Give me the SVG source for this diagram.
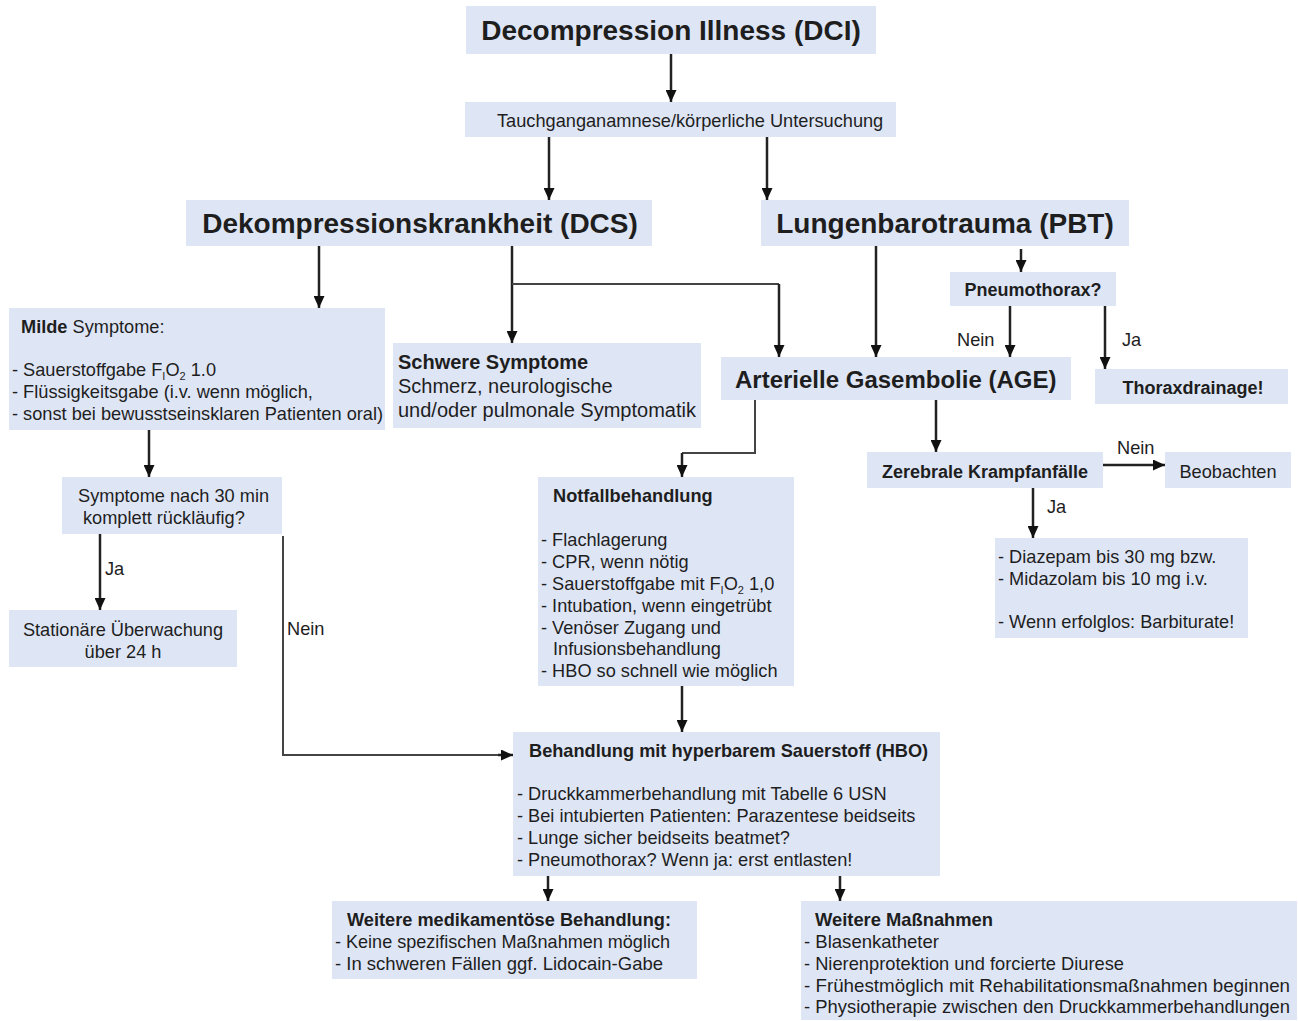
<svg xmlns="http://www.w3.org/2000/svg" width="1298" height="1021" viewBox="0 0 1298 1021">
<style>
.box{fill:#dee6f6}
text{font-family:"Liberation Sans",Arial,sans-serif;fill:#1e1e1e;font-size:18.2px}
.b{font-weight:bold}
.h1{font-weight:bold;font-size:28px}
.h2{font-weight:bold;font-size:24px}
.h3{font-weight:bold;font-size:18px}
.c{text-anchor:middle}
.sub{font-size:11px}
.ln{fill:none;stroke:#222;stroke-width:2.5}
.ln2{fill:none;stroke:#444;stroke-width:2}
</style>
<defs>
<marker id="ah" viewBox="0 0 12 11" refX="12" refY="5.5" markerWidth="12" markerHeight="11" markerUnits="userSpaceOnUse" orient="auto">
<path d="M0,0 L12,5.5 L0,11 z" fill="#111"/>
</marker>
</defs>

<g id="connectors">
<path class="ln" d="M671,54 V102" marker-end="url(#ah)"/>
<path class="ln" d="M549,137 V200" marker-end="url(#ah)"/>
<path class="ln" d="M767,137 V200" marker-end="url(#ah)"/>
<path class="ln" d="M319,246 V308" marker-end="url(#ah)"/>
<path class="ln" d="M512,246 V343" marker-end="url(#ah)"/>
<path class="ln2" d="M512,284 H779"/>
<path class="ln" d="M779,284 V357" marker-end="url(#ah)"/>
<path class="ln" d="M876,246 V357" marker-end="url(#ah)"/>
<path class="ln" d="M1021,249 V272" marker-end="url(#ah)"/>
<path class="ln" d="M1010,306 V357" marker-end="url(#ah)"/>
<path class="ln" d="M1105,306 V369" marker-end="url(#ah)"/>
<path class="ln" d="M149,430 V477" marker-end="url(#ah)"/>
<path class="ln2" d="M755,400 V453 H682"/>
<path class="ln" d="M682,453 V477" marker-end="url(#ah)"/>
<path class="ln" d="M936,400 V452" marker-end="url(#ah)"/>
<path class="ln" d="M1103,465 H1165" marker-end="url(#ah)"/>
<path class="ln" d="M1033,488 V538" marker-end="url(#ah)"/>
<path class="ln" d="M100,534 V610" marker-end="url(#ah)"/>
<path class="ln2" d="M283,536 V755 H500"/>
<path class="ln" d="M498,755 H513" marker-end="url(#ah)"/>
<path class="ln" d="M682,686 V732" marker-end="url(#ah)"/>
<path class="ln" d="M548,876 V901" marker-end="url(#ah)"/>
<path class="ln" d="M840,876 V901" marker-end="url(#ah)"/>
<text x="957" y="346">Nein</text>
<text x="1122" y="346">Ja</text>
<text x="1117" y="454">Nein</text>
<text x="1047" y="513">Ja</text>
<text x="105" y="575">Ja</text>
<text x="287" y="635">Nein</text>
</g>

<g id="dci">
<rect class="box" x="466" y="6" width="410" height="48"/>
<text class="h1 c" x="671" y="40">Decompression Illness (DCI)</text>
</g>

<g id="tauch">
<rect class="box" x="465" y="102" width="431" height="35"/>
<text x="497" y="127">Tauchganganamnese/körperliche Untersuchung</text>
</g>

<g id="dcs">
<rect class="box" x="186" y="200" width="466" height="46"/>
<text class="h1 c" x="420" y="233">Dekompressionskrankheit (DCS)</text>
</g>

<g id="pbt">
<rect class="box" x="761" y="200" width="368" height="46"/>
<text class="h1 c" x="945" y="233">Lungenbarotrauma (PBT)</text>
</g>

<g id="milde">
<rect class="box" x="9" y="308" width="376" height="122"/>
<text x="21" y="333"><tspan class="b">Milde</tspan> Symptome:</text>
<text x="12" y="376">- Sauerstoffgabe F<tspan class="sub" dy="4">I</tspan><tspan dy="-4">O</tspan><tspan class="sub" dy="4">2</tspan><tspan dy="-4"> 1.0</tspan></text>
<text x="12" y="398">- Flüssigkeitsgabe (i.v. wenn möglich,</text>
<text x="12" y="420">- sonst bei bewusstseinsklaren Patienten oral)</text>
</g>

<g id="schwere">
<rect class="box" x="393" y="343" width="308" height="85"/>
<text class="b" x="398" y="369" style="font-size:20px">Schwere Symptome</text>
<text x="398" y="393" style="font-size:20px">Schmerz, neurologische</text>
<text x="398" y="417" style="font-size:20px">und/oder pulmonale Symptomatik</text>
</g>

<g id="pneumo">
<rect class="box" x="950" y="272" width="166" height="34"/>
<text class="h3 c" x="1033" y="296">Pneumothorax?</text>
</g>

<g id="age">
<rect class="box" x="721" y="357" width="350" height="43"/>
<text class="h2" x="735" y="388">Arterielle Gasembolie (AGE)</text>
</g>

<g id="thorax">
<rect class="box" x="1095" y="369" width="193" height="35"/>
<text class="h3 c" x="1193" y="394">Thoraxdrainage!</text>
</g>

<g id="sympt30">
<rect class="box" x="62" y="477" width="220" height="57"/>
<text x="78" y="502">Symptome nach 30 min</text>
<text x="83" y="524">komplett rückläufig?</text>
</g>

<g id="station">
<rect class="box" x="9" y="610" width="228" height="57"/>
<text class="c" x="123" y="636">Stationäre Überwachung</text>
<text class="c" x="123" y="658">über  24 h</text>
</g>

<g id="notfall">
<rect class="box" x="538" y="477" width="256" height="209"/>
<text class="b" x="553" y="502">Notfallbehandlung</text>
<text x="541" y="546">- Flachlagerung</text>
<text x="541" y="568">- CPR, wenn nötig</text>
<text x="541" y="590">- Sauerstoffgabe mit F<tspan class="sub" dy="4">I</tspan><tspan dy="-4">O</tspan><tspan class="sub" dy="4">2</tspan><tspan dy="-4">  1,0</tspan></text>
<text x="541" y="612">- Intubation, wenn eingetrübt</text>
<text x="541" y="634">- Venöser Zugang und</text>
<text x="553" y="655">Infusionsbehandlung</text>
<text x="541" y="677">- HBO so schnell wie möglich</text>
</g>

<g id="zerebral">
<rect class="box" x="867" y="452" width="236" height="36"/>
<text class="h3 c" x="985" y="478">Zerebrale Krampfanfälle</text>
</g>

<g id="beobachten">
<rect class="box" x="1165" y="452" width="126" height="36"/>
<text class="c" x="1228" y="478">Beobachten</text>
</g>

<g id="diazepam">
<rect class="box" x="995" y="538" width="253" height="100"/>
<text x="998" y="563">- Diazepam bis 30 mg bzw.</text>
<text x="998" y="585">- Midazolam bis 10 mg i.v.</text>
<text x="998" y="628">- Wenn erfolglos: Barbiturate!</text>
</g>

<g id="hbo">
<rect class="box" x="513" y="732" width="427" height="144"/>
<text class="b" x="529" y="757">Behandlung mit hyperbarem Sauerstoff (HBO)</text>
<text x="517" y="800">- Druckkammerbehandlung mit Tabelle 6 USN</text>
<text x="517" y="822">- Bei intubierten Patienten: Parazentese beidseits</text>
<text x="517" y="844">- Lunge sicher beidseits beatmet?</text>
<text x="517" y="866">- Pneumothorax? Wenn ja: erst entlasten!</text>
</g>

<g id="medik">
<rect class="box" x="332" y="901" width="365" height="78"/>
<text class="b" x="347" y="926" textLength="324" lengthAdjust="spacingAndGlyphs">Weitere medikamentöse Behandlung:</text>
<text x="335" y="948" textLength="335" lengthAdjust="spacingAndGlyphs">- Keine spezifischen Maßnahmen möglich</text>
<text x="335" y="970" textLength="328" lengthAdjust="spacingAndGlyphs">- In schweren Fällen ggf. Lidocain-Gabe</text>
</g>

<g id="massnahmen">
<rect class="box" x="801" y="901" width="496" height="119"/>
<text class="b" x="815" y="926" textLength="178" lengthAdjust="spacingAndGlyphs">Weitere Maßnahmen</text>
<text x="804" y="948" textLength="135" lengthAdjust="spacingAndGlyphs">- Blasenkatheter</text>
<text x="804" y="970" textLength="320" lengthAdjust="spacingAndGlyphs">- Nierenprotektion und forcierte Diurese</text>
<text x="804" y="992" textLength="486" lengthAdjust="spacingAndGlyphs">- Frühestmöglich mit Rehabilitationsmaßnahmen beginnen</text>
<text x="804" y="1013" textLength="486" lengthAdjust="spacingAndGlyphs">- Physiotherapie zwischen den Druckkammerbehandlungen</text>
</g>
</svg>
